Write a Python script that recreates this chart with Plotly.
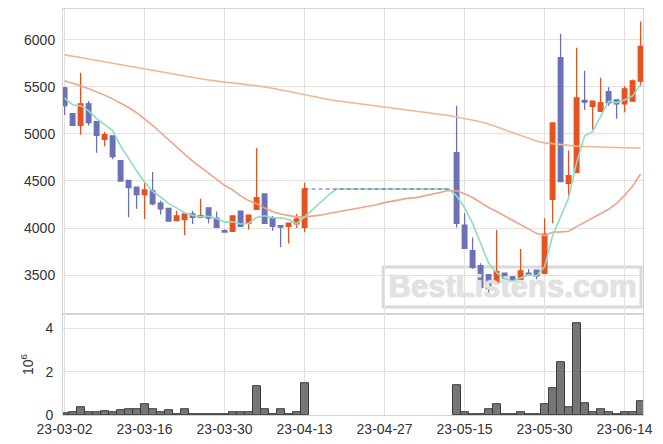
import plotly.graph_objects as go

# ---- data ----
dates = [
    "23-03-02", "23-03-03", "23-03-06", "23-03-07", "23-03-08", "23-03-09", "23-03-10",
    "23-03-13", "23-03-14", "23-03-15", "23-03-16", "23-03-17", "23-03-20", "23-03-21",
    "23-03-22", "23-03-23", "23-03-24", "23-03-27", "23-03-28", "23-03-29", "23-03-30",
    "23-03-31", "23-04-03", "23-04-04", "23-04-05", "23-04-06", "23-04-07", "23-04-10",
    "23-04-11", "23-04-12", "23-04-13", "23-04-14", "23-04-17", "23-04-18", "23-04-19",
    "23-04-20", "23-04-21", "23-04-24", "23-04-25", "23-04-26", "23-04-27", "23-04-28",
    "23-05-02", "23-05-03", "23-05-04", "23-05-08", "23-05-09", "23-05-10", "23-05-11",
    "23-05-12", "23-05-15", "23-05-16", "23-05-17", "23-05-18", "23-05-19", "23-05-22",
    "23-05-23", "23-05-24", "23-05-25", "23-05-26", "23-05-30", "23-05-31", "23-06-01",
    "23-06-02", "23-06-05", "23-06-07", "23-06-08", "23-06-09", "23-06-12", "23-06-13",
    "23-06-14", "23-06-15", "23-06-16",
]
tick_labels = ["23-03-02", "23-03-16", "23-03-30", "23-04-13",
               "23-04-27", "23-05-15", "23-05-30", "23-06-14"]

G = None  # no trading data in the gap
open_ = [5490, 5215, 5090, 5320, 5130, 4943, 4980, 4715, 4505, 4435, 4355, 4395, 4265, 4210,
         4080, 4090, 4150, 4113, 4215, 4105, 3972, 3965, 4180, 4050, 4200, 4362, 4100, 4025,
         4018, 4046, 4007] + [G] * 18 + \
        [4800, 4030, 3760, 3600, 3504, 3422, 3521, 3482, 3454, 3520, 3553, 3520, 4305, 5810,
         4475, 4592, 5355, 5294, 5241, 5450, 5362, 5319, 5348, 5560]
high = [5500, 5220, 5650, 5350, 5130, 5020, 4985, 4715, 4510, 4435, 4490, 4595, 4293, 4215,
        4185, 4155, 4185, 4310, 4215, 4175, 3985, 4135, 4185, 4140, 4850, 4365, 4128, 4030,
        4055, 4150, 4480] + [G] * 18 + \
       [5300, 4160, 3900, 3625, 3505, 3980, 3525, 3490, 3777, 3565, 3555, 4103, 5120, 6065,
        4823, 5915, 5670, 5355, 5596, 5496, 5365, 5507, 5578, 6195]
low = [5200, 5090, 4990, 5090, 4800, 4870, 4730, 4500, 4115, 4205, 4095, 4243, 4143, 4075,
       4075, 3925, 4043, 4105, 4050, 4005, 3955, 3958, 4015, 3985, 4195, 4045, 3972, 3795,
       3837, 4000, 3955] + [G] * 18 + \
      [4005, 3780, 3567, 3348, 3290, 3420, 3422, 3440, 3440, 3493, 3457, 3510, 4050, 4490,
       4344, 4590, 5255, 5046, 5235, 5300, 5160, 5230, 5340, 5504]
close = [5300, 5090, 5320, 5120, 4985, 4993, 4760, 4500, 4430, 4355, 4405, 4257, 4205, 4075,
         4130, 4150, 4113, 4131, 4105, 4007, 3958, 4128, 4018, 4138, 4323, 4050, 4018, 4011,
         4053, 4096, 4415] + [G] * 18 + \
        [4050, 3785, 3582, 3370, 3358, 3536, 3468, 3454, 3546, 3510, 3493, 3935, 5117, 4493,
         4557, 5383, 5337, 5348, 5330, 5330, 5319, 5479, 5564, 5929]
volume = [90000, 140000, 370000, 140000, 140000, 180000, 140000, 230000, 280000, 280000,
          510000, 270000, 110000, 200000, 60000, 290000, 60000, 60000, 60000, 60000,
          60000, 150000, 110000, 150000, 1310000, 290000, 60000, 250000, 60000, 150000,
          1490000] + [G] * 18 + \
         [1360000, 110000, 60000, 60000, 290000, 480000, 20000, 60000, 150000, 20000,
          20000, 480000, 1220000, 2430000, 340000, 4240000, 530000, 150000, 250000, 110000,
          60000, 110000, 110000, 620000]

ma5 = [5380, 5310, 5300, 5245, 5163, 5102, 5036, 4872, 4734, 4608, 4490, 4389, 4330, 4259,
       4214, 4163, 4135, 4120, 4126, 4101, 4063, 4066, 4043, 4050, 4113, 4131, 4109, 4108,
       4091, 4046, 4119, 4198, 4279, 4351, 4415, 4415, 4415, 4415, 4415, 4415, 4415, 4415,
       4415, 4415, 4415, 4415, 4415, 4415, 4415, 4342, 4216, 4049, 3840, 3629, 3526, 3463,
       3437, 3472, 3503, 3494, 3588, 3920, 4110, 4319, 4697, 4977, 5024, 5191, 5346, 5333,
       5361, 5404, 5524]
ma20 = [5565, 5540, 5512, 5480, 5448, 5412, 5372, 5328, 5280, 5225, 5160, 5090, 5015, 4935,
        4860, 4785, 4710, 4645, 4582, 4522, 4454, 4406, 4341, 4292, 4259, 4212, 4175, 4150,
        4132, 4119, 4119, 4127, 4137, 4154, 4169, 4182, 4197, 4211, 4227, 4247, 4270, 4284,
        4304, 4318, 4323, 4341, 4361, 4381, 4399, 4397, 4365, 4324, 4271, 4219, 4175, 4127,
        4079, 4036, 3990, 3944, 3920, 3955, 3959, 3966, 4015, 4061, 4108, 4153, 4199, 4263,
        4347, 4446, 4574]
ma60 = [5840, 5828, 5812, 5795, 5780, 5765, 5748, 5732, 5715, 5698, 5685, 5670, 5656, 5642,
        5628, 5614, 5600, 5586, 5572, 5558, 5550, 5542, 5533, 5523, 5512, 5500, 5485, 5468,
        5450, 5430, 5410, 5392, 5378, 5365, 5352, 5340, 5328, 5316, 5305, 5294, 5283, 5272,
        5262, 5250, 5240, 5230, 5220, 5210, 5196, 5180, 5165, 5150, 5130, 5105, 5075, 5045,
        5015, 4985, 4955, 4925, 4905, 4895, 4885, 4876, 4870, 4866, 4862, 4859, 4857, 4855,
        4853, 4852, 4851]

watermark = "BestListens.com"

# ---- styles ----
UP = "#e8501e"
DOWN = "#6c70b6"
GRID = "#e2e2e2"
FRAME = "#d4d4d4"
FONT = dict(family="Liberation Sans, Arial, sans-serif", size=14, color="#333333")

valid = [i for i, c in enumerate(close) if c is not None]
last_before_gap = max(i for i in valid if i < len(close) - 1 and close[i + 1] is None)
next_after_gap = min(i for i in valid if i > last_before_gap)

fig = go.Figure()

# watermark text, drawn first so that every mark sits on top of it
fig.add_trace(go.Scatter(x=[dates[56]], y=[3351], mode="text", text=[watermark],
                         textposition="middle center",
                         textfont=dict(family="Liberation Sans, Arial, sans-serif", size=31,
                                       weight="bold", color="#e2e2e2",
                                       shadow="0px 0px 1.5px #c4c4c4"),
                         hoverinfo="skip", showlegend=False, xaxis="x", yaxis="y"))

fig.add_trace(go.Scatter(x=dates, y=ma60, mode="lines", line=dict(color="#f1b890", width=1.6),
                         hoverinfo="skip", showlegend=False, xaxis="x", yaxis="y"))
fig.add_trace(go.Scatter(x=dates, y=ma20, mode="lines", line=dict(color="#eea487", width=1.6),
                         hoverinfo="skip", showlegend=False, xaxis="x", yaxis="y"))
fig.add_trace(go.Scatter(x=dates, y=ma5, mode="lines", line=dict(color="#8fdcc1", width=1.6),
                         hoverinfo="skip", showlegend=False, xaxis="x", yaxis="y"))

gap_x = dates[last_before_gap:next_after_gap]
gap_y = [close[last_before_gap]] * len(gap_x)
fig.add_trace(go.Scatter(x=gap_x, y=gap_y, mode="lines",
                         line=dict(color="#5b5fa9", width=1.2, dash="4px,3px"),
                         hoverinfo="skip", showlegend=False, xaxis="x", yaxis="y"))

fig.add_trace(go.Candlestick(
    x=[dates[i] for i in valid],
    open=[open_[i] for i in valid], high=[high[i] for i in valid],
    low=[low[i] for i in valid], close=[close[i] for i in valid],
    increasing=dict(line=dict(color=UP, width=1.3), fillcolor=UP),
    decreasing=dict(line=dict(color=DOWN, width=1.3), fillcolor=DOWN),
    whiskerwidth=0, showlegend=False, xaxis="x", yaxis="y"))

fig.add_trace(go.Bar(x=dates, y=volume, width=1.0,
                     marker=dict(color="#767676", line=dict(color="#3c3c3c", width=1)),
                     showlegend=False, xaxis="x2", yaxis="y2"))

split = 0.2483
xcommon = dict(type="category", categoryorder="array", categoryarray=dates,
               range=[-0.2, 72.3], tickmode="array", tickvals=tick_labels,
               showgrid=True, gridcolor=GRID, gridwidth=1, zeroline=False,
               showline=True, mirror=True, linecolor=FRAME, linewidth=1, tickfont=FONT,
               ticks="", automargin=False)

# the page body has an 8px default margin, so the figure is sized to fit inside it
fig.update_layout(
    width=655, height=436,
    margin=dict(l=55, r=20, t=1, b=29, autoexpand=False),
    paper_bgcolor="white", plot_bgcolor="white",
    font=FONT,
    boxgap=0.42, boxgroupgap=0,
    bargap=0,
    xaxis=dict(**xcommon, anchor="y", domain=[0, 1], showticklabels=False,
               rangeslider=dict(visible=False)),
    xaxis2=dict(**xcommon, anchor="y2", domain=[0, 1], matches="x", showticklabels=True,
                ticklabelstandoff=1),
    yaxis=dict(domain=[split, 1], range=[3085, 6327], tickvals=[3500, 4000, 4500, 5000, 5500, 6000],
               showgrid=True, gridcolor=GRID, zeroline=False, showline=True, mirror=True,
               linecolor=FRAME, tickfont=FONT, ticks="", ticklabelstandoff=4, automargin=False),
    yaxis2=dict(domain=[0, split], range=[0, 4650000], tickvals=[0, 2000000, 4000000],
                ticktext=["0", "2", "4"], showgrid=True, gridcolor=GRID, zeroline=False,
                showline=True, mirror=True, linecolor=FRAME, tickfont=FONT, ticks="",
                ticklabelstandoff=6, automargin=False,
                title=dict(text="10<sup>6</sup>", font=FONT, standoff=8)),
    shapes=[dict(type="rect", xref="paper", yref="paper", x0=0.552, x1=0.9966,
                 y0=0.266, y1=0.3645, layer="below",
                 line=dict(color="#d9d9d9", width=3), fillcolor="rgba(255,255,255,0)")],
)

fig.write_html("out.html")
